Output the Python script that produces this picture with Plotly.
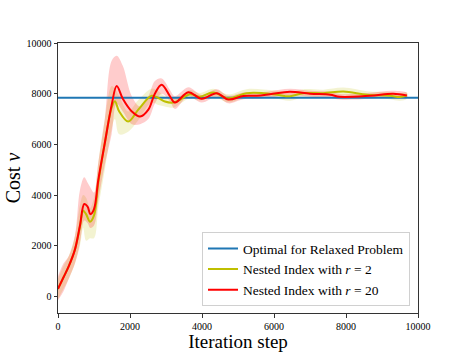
import plotly.graph_objects as go

# ---- data ----
opt_x = [0, 10000]
opt_y = [7840, 7840]

red_x = [0, 150, 300, 470, 610, 730, 820, 900, 1000, 1120, 1300, 1490, 1630, 1800, 2050, 2280,
         2510, 2690, 2880, 3110, 3250, 3620, 3990, 4410, 4730, 5150, 5520, 5890, 6440, 7000,
         7560, 7830, 8670, 9310, 9690]
red_y = [300, 750, 1200, 1850, 2800, 3650, 3550, 3250, 3450, 4600, 6050, 7550, 8300, 7800, 7300, 7100,
         7370, 8000, 8350, 7900, 7650, 8060, 7800, 8020, 7770, 7910, 7920, 7980, 8080, 8000,
         7960, 7880, 7920, 8000, 7930]
red_lo = [-150, 200, 700, 1300, 2100, 3000, 2900, 2700, 2800, 3800, 5200, 6400, 7600, 7300, 6800, 6800,
          7000, 7600, 8000, 7700, 7400, 7900, 7650, 7880, 7620, 7780, 7800, 7850, 7950, 7880,
          7840, 7770, 7800, 7880, 7830]
red_hi = [800, 1300, 1600, 2400, 4200, 4700, 4500, 4300, 4100, 5300, 7000, 9300, 9500, 9100, 7900, 7500,
          7900, 8500, 8600, 8150, 7900, 8250, 7950, 8180, 7920, 8050, 8050, 8100, 8200, 8120,
          8080, 7990, 8040, 8120, 8030]

yel_x = [0, 150, 300, 470, 610, 700, 780, 890, 1000, 1120, 1300, 1490, 1580, 1700, 1950, 2230,
         2600, 2790, 2970, 3200, 3390, 3670, 3940, 4310, 4730, 5240, 5700, 6080, 6440, 6810,
         7370, 7930, 8580, 9220, 9500, 9690]
yel_y = [300, 750, 1200, 1850, 2750, 3380, 3250, 2950, 3200, 4500, 6050, 7450, 7700, 7300, 6900, 7370,
         7920, 7830, 7690, 7650, 7760, 7980, 7880, 8050, 7820, 8020, 8020, 7960, 7900, 8020,
         8020, 8090, 7960, 7920, 7870, 7930]
yel_lo = [-100, 300, 700, 1300, 2000, 2700, 2200, 2300, 2300, 3500, 5000, 6600, 7000, 6400, 6500, 6950,
          7650, 7550, 7500, 7450, 7600, 7820, 7730, 7880, 7660, 7860, 7870, 7800, 7720, 7860,
          7880, 7940, 7820, 7780, 7720, 7800]
yel_hi = [700, 1200, 1600, 2400, 3600, 4000, 3900, 3500, 3900, 5300, 7000, 8300, 8200, 7900, 7300, 7750,
          8200, 8100, 7900, 7850, 7920, 8140, 8030, 8200, 7980, 8180, 8170, 8120, 8060, 8180,
          8160, 8240, 8100, 8060, 8020, 8060]

x_ticks = [0, 2000, 4000, 6000, 8000, 10000]
y_ticks = [0, 2000, 4000, 6000, 8000, 10000]

FONT = "Liberation Serif"

fig = go.Figure()

fig.add_trace(go.Scatter(x=yel_x + yel_x[::-1], y=yel_hi + yel_lo[::-1], fill="toself",
                         fillcolor="rgba(191,191,0,0.18)", line=dict(width=0, shape="spline"),
                         mode="lines", showlegend=False, hoverinfo="skip"))
fig.add_trace(go.Scatter(x=red_x + red_x[::-1], y=red_hi + red_lo[::-1], fill="toself",
                         fillcolor="rgba(255,0,0,0.2)", line=dict(width=0, shape="spline"),
                         mode="lines", showlegend=False, hoverinfo="skip"))
fig.add_trace(go.Scatter(x=opt_x, y=opt_y, mode="lines", name="Optimal for Relaxed Problem",
                         line=dict(color="#1f77b4", width=2)))
fig.add_trace(go.Scatter(x=yel_x, y=yel_y, mode="lines", name="Nested Index with <i>r</i> = 2",
                         line=dict(color="#bfbf00", width=2, shape="spline")))
fig.add_trace(go.Scatter(x=red_x, y=red_y, mode="lines", name="Nested Index with <i>r</i> = 20",
                         line=dict(color="#ff0000", width=2, shape="spline")))

fig.update_layout(
    width=465, height=352,
    margin=dict(l=58, r=47, t=43, b=39, autoexpand=False),
    paper_bgcolor="white", plot_bgcolor="white",
    font=dict(family=FONT, color="black"),
    showlegend=True,
    legend=dict(x=0.4, y=0.025, xanchor="left", yanchor="bottom",
                bgcolor="rgba(255,255,255,0.85)", bordercolor="#d0d0d0", borderwidth=1,
                font=dict(family=FONT, size=13.5), itemwidth=30, tracegroupgap=0),
    xaxis=dict(range=[0, 10000], tickvals=x_ticks, ticktext=[str(v) for v in x_ticks],
               showgrid=False, zeroline=False, showline=True, linecolor="#333", linewidth=1,
               mirror=True, ticks="outside", ticklen=3.5, tickcolor="#333", automargin=False,
               tickfont=dict(family=FONT, size=10),
               title=dict(text="Iteration step", font=dict(family=FONT, size=19), standoff=0)),
    yaxis=dict(range=[-650, 10000], tickvals=y_ticks, ticktext=[str(v) for v in y_ticks],
               showgrid=False, zeroline=False, showline=True, linecolor="#333", linewidth=1,
               mirror=True, ticks="outside", ticklen=3.5, tickcolor="#333", automargin=False,
               tickfont=dict(family=FONT, size=10),
               title=dict(text="Cost <i>ν</i>", font=dict(family=FONT, size=20), standoff=0)),
)

fig.write_html("out.html", config={"displayModeBar": False},
               post_script="document.body.style.margin='0';document.body.style.padding='0';")
